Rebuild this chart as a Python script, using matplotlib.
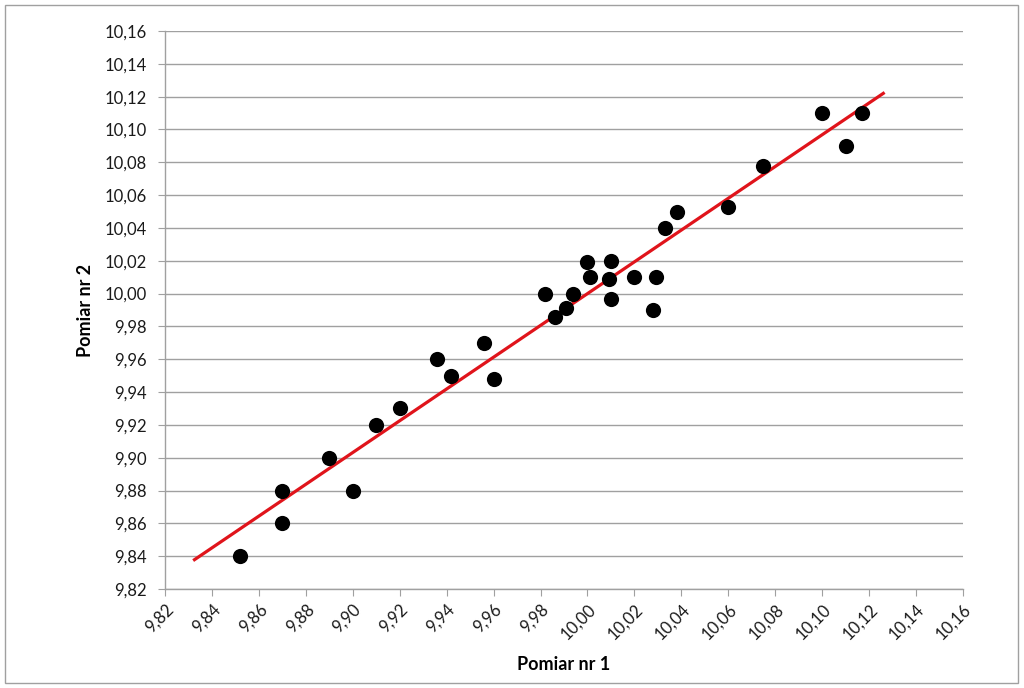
import numpy as np
import matplotlib
matplotlib.use("Agg")
import matplotlib.pyplot as plt
from matplotlib.patches import Rectangle
from matplotlib.ticker import FuncFormatter

plt.rcParams['font.family'] = ['Lato', 'DejaVu Sans']

pomiar1 = [9.852, 9.870, 9.870, 9.890, 9.900, 9.910, 9.920, 9.936, 9.942, 9.956,
           9.960, 9.982, 9.986, 9.991, 9.994, 10.000, 10.001, 10.010, 10.009, 10.010,
           10.020, 10.029, 10.028, 10.033, 10.038, 10.060, 10.075, 10.100, 10.110, 10.117]
pomiar2 = [9.840, 9.880, 9.860, 9.900, 9.880, 9.920, 9.930, 9.960, 9.950, 9.970,
           9.948, 10.000, 9.986, 9.991, 10.000, 10.019, 10.010, 10.020, 10.009, 9.997,
           10.010, 10.010, 9.990, 10.040, 10.050, 10.053, 10.078, 10.110, 10.090, 10.110]
trend_x = [9.832, 10.1266]
ticks = [9.82, 9.84, 9.86, 9.88, 9.90, 9.92, 9.94, 9.96, 9.98, 10.00,
         10.02, 10.04, 10.06, 10.08, 10.10, 10.12, 10.14, 10.16]

fig = plt.figure(figsize=(10.24, 6.88), dpi=100)
ax = fig.add_axes([165/1024, 1-589/688, (963-165)/1024, (589-31)/688])

coef = np.polyfit(pomiar1, pomiar2, 1)
tx = np.array(trend_x)
ax.plot(tx, np.polyval(coef, tx), color='#E0141B', lw=2.3, zorder=2, solid_capstyle='butt')
ax.scatter(pomiar1, pomiar2, s=120, color='black', zorder=3, linewidths=0)

ax.set_xlim(9.82, 10.16)
ax.set_ylim(9.82, 10.16)
ax.set_xticks(ticks)
ax.set_yticks(ticks)
fmt = FuncFormatter(lambda v, p: f"{v:.2f}".replace('.', ','))
ax.xaxis.set_major_formatter(fmt)
ax.yaxis.set_major_formatter(fmt)
ax.grid(axis='y', color='#A0A0A0', lw=1.0)
ax.set_axisbelow(True)
for s in ['top', 'right']:
    ax.spines[s].set_visible(False)
for s in ['left', 'bottom']:
    ax.spines[s].set_color('#A0A0A0')
    ax.spines[s].set_linewidth(1.0)
ax.tick_params(axis='both', direction='out', length=5, color='#A0A0A0', labelsize=12, labelcolor='#1a1a1a')
ax.tick_params(axis='y', pad=8)
plt.setp(ax.get_xticklabels(), rotation=45, ha='right', rotation_mode='anchor')

ax.set_xlabel('Pomiar nr 1', fontsize=13, fontweight='bold', labelpad=10)
ax.set_ylabel('Pomiar nr 2', fontsize=13, fontweight='bold', labelpad=8)

fig.patches.append(Rectangle((5/1024, 5/688), 1013/1024, 678/688, transform=fig.transFigure,
                             fill=False, edgecolor='#A0A0A0', lw=1.0))

fig.savefig('out.png', dpi=100)
